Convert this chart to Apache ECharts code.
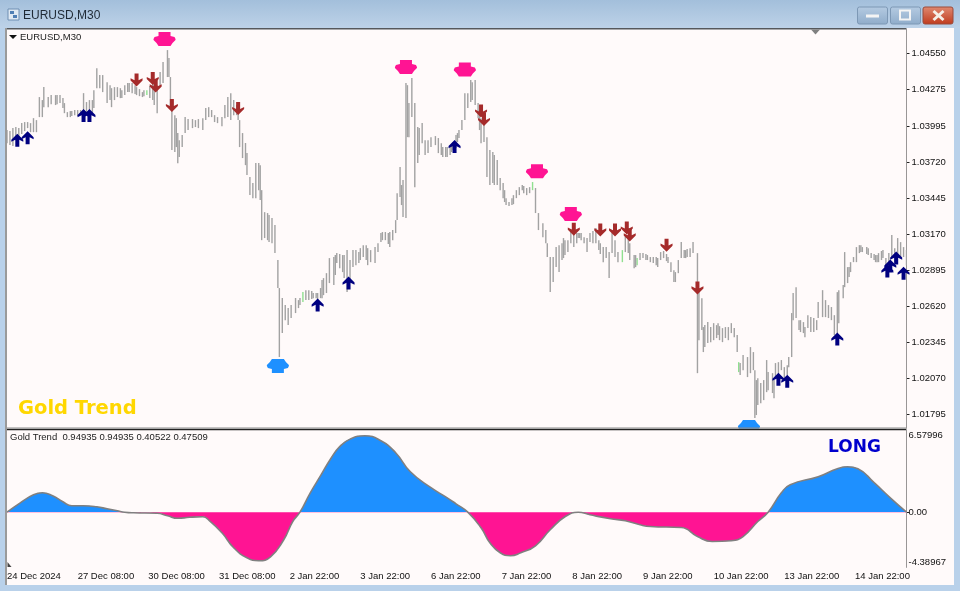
<!DOCTYPE html>
<html>
<head>
<meta charset="utf-8">
<title>EURUSD,M30</title>
<script src="https://cdn.jsdelivr.net/npm/echarts@6/dist/echarts.min.js"></script>
<style>html,body{margin:0;padding:0;background:#b9d1ea}#c{width:960px;height:591px}</style>
</head>
<body>
<div id="c"></div>
<script>
// Price bars: bar number, high and low in 1e-5 price units
const barIdx = [
0,2,4,6,8,10,12,14,16,18,
20,22,24,25,28,30,33,36,39,41,
44,46,50,52,54,58,61,63,65,68,
71,75,78,82,85,88,92,95,99,102,
104,106,109,110,111,112,114,115,116,117,
119,121,123,126,128,130,133,135,137,139,
141,143,146,148,150,152,154,156,157,158,
160,163,165,167,169,171,173,175,177,180,
182,184,185,187,189,191,193,196,198,199,
201,205,208,211,214,217,219,222,224,228,
231,233,235,239,242,245,250,252,254,257,
260,262,264,265,267,268,269,271,272,273,
275,277,279,280,282,284,286,288,291,293,
296,299,302,305,307,309,311,313,315,318,
320,322,324,326,328,330,333,335,337,339,
341,343,346,348,350,353,355,357,359,361,
364,366,367,369,371,373,375,377,378,381,
383,385,388,390,392,394,396,400,402,405,
407,409,411,413,415,418,420,422,423,426,
428,430,432,435,437,439,442,444,446,449,
451,453,454,456,458,460,462,464,466,469,
470,472,473,476,478,480,483,486,488,490,
492,494,496,497,498,500,503,505,507,508,
509,510,512,514,516,517,520,521,522,524,
526,528,530,531,533,534,536,538,541,542,
544,546,548,550,551,554,556,558,560,562,
564,565,568,569,571,572,575,577,579,581,
585,587,590,592,595,597,599,601,603,605,
607,609,611];
const highs = [
103964,103956,103979,103987,103979,104017,104025,104025,104017,104055,
104040,104216,104193,104292,104216,104231,104231,104231,104170,104101,
104109,104117,104117,104246,104178,104193,104437,104384,104384,104330,
104284,104292,104269,104323,104323,104292,104254,104269,104323,104307,
104407,104483,104575,104514,104369,104139,104078,104055,103941,103887,
103926,104063,104048,104048,104040,104048,104055,104132,104139,104117,
104078,104063,104063,104155,104216,104246,104193,104155,104132,104040,
103941,103788,103605,103559,103712,103712,103505,103337,103330,103292,
103238,102971,102757,102681,102627,102604,102627,102681,102665,102681,
102726,102741,102719,102719,102818,102871,102986,102994,103024,103009,
103047,102971,103047,103032,103085,103062,103070,103100,103177,103185,
103185,103200,103276,103482,103681,103544,103582,104323,104307,104170,
104361,104170,103987,103979,104017,103887,103887,103910,103918,103903,
103834,103834,103849,103926,103964,104040,104246,104246,104346,104346,
104170,104055,104017,103910,103811,103796,103735,103597,103559,103444,
103414,103444,103505,103528,103544,103521,103528,103567,103521,103330,
103253,103200,103100,102994,102994,103070,103085,103100,103139,103123,
103185,103177,103177,103177,103146,103139,103177,103215,103123,103070,
103070,103032,103177,103123,103032,103047,103162,103139,103100,103009,
102986,103024,103024,103009,102994,102994,102986,103032,103040,102994,
102955,102894,102879,102971,103108,103047,103055,103062,103108,103024,
102741,102680,102459,102497,102459,102489,102489,102451,102459,102459,
102489,102451,102398,102191,102184,102245,102230,102306,102268,102130,
102054,102069,102031,102054,102207,102115,102107,102054,102184,102191,
102207,102153,102168,102230,102566,102719,102764,102512,102497,102459,
102550,102535,102528,102512,102650,102741,102665,102627,102612,102550,
102726,102741,102780,103032,102917,102917,102994,103070,103085,103070,
103062,103024,103009,103024,103047,102986,103024,103162,103062,103139,
103108,103070,103047];
const lows = [
103864,103849,103842,103887,103910,103933,103956,103979,103948,103948,
103948,104063,104063,104139,104139,104162,104155,104170,104093,104063,
104071,104078,104078,104040,104078,104093,104284,104284,104254,104170,
104139,104216,104208,104254,104246,104231,104216,104231,104193,104093,
104292,104323,104369,104369,104139,103811,103796,103834,103711,103758,
103834,103941,103964,103979,103987,103979,103964,104040,104063,104063,
104025,104017,103994,104055,104063,104040,104078,104078,104040,103834,
103750,103620,103467,103444,103444,103505,103123,103139,103123,103100,
103024,102757,102230,102413,102512,102474,102528,102566,102604,102627,
102650,102665,102680,102665,102680,102719,102795,102780,102948,102879,
102726,102818,102917,102948,102994,102932,102948,103032,103108,103123,
103070,103123,103177,103276,103452,103391,103299,103292,103910,103910,
104063,103528,103712,103773,103864,103773,103788,103834,103849,103788,
103758,103758,103796,103826,103903,103964,104040,104132,104178,104155,
104055,103864,103872,103605,103544,103559,103544,103505,103444,103391,
103383,103391,103444,103467,103505,103467,103482,103505,103330,103200,
103146,103100,102994,102726,102803,102917,102879,102971,102986,103032,
103100,103070,103139,103123,103100,103032,103108,103100,103047,102955,
102986,102833,103024,102994,102955,102955,103032,103024,102971,102909,
102932,102971,102986,102971,102955,102948,102917,102971,102986,102948,
102879,102803,102803,102871,102986,102986,102994,102994,103024,102107,
102359,102436,102268,102337,102344,102359,102398,102344,102375,102359,
102413,102382,102268,102115,102092,102130,102077,102107,102130,101764,
101787,101863,101878,101901,101962,101977,101955,101916,102077,102092,
102130,102069,102092,102153,102230,102512,102528,102436,102413,102382,
102451,102421,102421,102436,102528,102535,102535,102528,102512,102398,
102413,102489,102680,102764,102795,102841,102955,102955,103024,103032,
103009,102986,102955,102955,102986,102917,102932,102994,102955,103009,
102994,102994,102932];
// More bars read from the flatter stretches
const moreIdx = [34,38,43,48,56,59,70,73,77,80,83,87,90,93,97,100,162,172,178,203,207,210,213,215,223,226,229,237,240,244,247,255,259,295,298,301,303,306,316,321,331,338,344,351,379,387,389,398,403,427,434,441,448,461,474,482,484,539,573,580,584,589,591,594];
const moreHighs = [104231,104208,104109,104117,104193,104269,104307,104292,104284,104307,104323,104307,104277,104269,104300,104315,103865,103696,103315,102741,102734,102719,102757,102833,103009,103017,103009,103047,103062,103085,103047,103185,103177,103864,103834,103841,103872,103941,104330,104117,103773,103505,103467,103536,103123,103177,103177,103192,103100,103009,103017,102994,103017,103047,102474,102474,102466,102512,102955,103085,103070,103017,103009,103040];
const moreLows = [104162,104132,104063,104071,104086,104132,104193,104193,104208,104231,104254,104239,104223,104223,104208,104155,103696,103429,103108,102665,102673,102680,102680,102703,102856,102909,102833,102932,102971,102971,102955,103123,103093,103773,103758,103773,103811,103872,104193,103964,103544,103414,103398,103482,103009,103100,103139,103100,103017,102917,102971,102932,102963,102986,102306,102375,102359,102421,102879,103032,103017,102971,102955,102971];
const greenBars = [95,201,357,418,428,497];

// Signal arrows and markers: bar number and price (1e-5 units)
const upArrowBars = [7,14,52,56,211,232,304,524,530,564,598,600,604,609];
const upArrowPrices = [103887,103906,104075,104075,102627,102795,103838,102061,102046,102367,102887,102925,102986,102871];
const downArrowBars = [88,99,101,112,157,322,324,385,403,413,421,423,448,469];
const downArrowPrices = [104346,104357,104300,104151,104128,104109,104044,103207,103200,103200,103215,103162,103085,102757];
const sellBars = [107,271,311,360,383];
const sellPrices = [104659,104445,104426,103650,103322];
const buyBars = [184,504];
const buyPrices = [102161,101695];

// Oscillator
const oscBars = [0,9,18,24,31,38,44,52,61,68,75,80,86,102,109,116,124,133,138,146,154,163,171,179,188,194,199,
206,213,220,226,233,243,254,264,274,288,298,305,313,322,328,335,342,349,359,369,379,388,396,410,420,430,437,458,469,479,492,500,510,517,
526,532,551,564,571,578,589,600,611];
const oscValues = [0,0.75,1.39,1.55,1.31,0.83,0.51,0.51,0.43,0.27,0.11,0,-0.05,-0.09,-0.29,-0.49,-0.41,-0.37,-0.73,-1.65,-2.85,-3.65,-3.89,-3.57,-2.21,-0.77,0,
1.55,2.92,4.30,5.25,5.85,6.12,5.72,4.76,3.24,1.96,1.23,0.67,0,-1.25,-2.45,-3.25,-3.49,-3.25,-2.69,-1.41,-0.37,0,-0.21,-0.53,-0.69,-1.01,-1.15,-1.23,-1.95,-2.35,-2.29,-1.95,-0.75,0,
1.55,2.20,2.84,3.48,3.64,3.48,2.36,1.15,0];

// Axis labels
const priceTicks = [1.04550,1.04275,1.03995,1.03720,1.03445,1.03170,1.02895,1.02620,1.02345,1.02070,1.01795];
const oscTicks = [6.57996,0,-4.38967];
const timeTicks = [0,48,96,144,192,240,288,336,384,432,480,528,576];
const timeLabels = ['24 Dec 2024','27 Dec 08:00','30 Dec 08:00','31 Dec 08:00','2 Jan 22:00','3 Jan 22:00','6 Jan 22:00','7 Jan 22:00','8 Jan 22:00','9 Jan 22:00','10 Jan 22:00','13 Jan 22:00','14 Jan 22:00'];

const FONT = '"Liberation Sans", Tahoma, sans-serif';
const SNOW = '#fffafa';
const P = v => v / 100000;
const UP_PATH = 'path://M6 0 L12 6 L12 8.2 L8 6.2 L8 13 L4 13 L4 6.2 L0 8.2 L0 6 Z';
const HAT_PATH = 'path://M5 0 L17 0 L17 4 L21 5 L22 7 L22 8 L19 11 L17 14 L5 14 L3 11 L0 8 L0 7 L1 5 L5 4 Z';

const chart = echarts.init(document.getElementById('c'), null, {renderer: 'canvas'});

const text = (t, x, y, font, fill, z) => ({type: 'text', z: z || 20, style: {text: t, x, y, font, fill, textVerticalAlign: 'middle'}});
const rect = (x, y, w, h, fill, z, extra) => ({type: 'rect', z: z === undefined ? 20 : z, shape: Object.assign({x, y, width: w, height: h}, extra || {}), style: {fill}});
const grad = (a, b) => new echarts.graphic.LinearGradient(0, 0, 0, 1, [{offset: 0, color: a}, {offset: 1, color: b}]);

const bars = barIdx.map((b, i) => [b, P(highs[i]), P(lows[i])])
  .concat(moreIdx.map((b, i) => [b, P(moreHighs[i]), P(moreLows[i])]));

chart.setOption({
  animation: false,
  backgroundColor: '#b9d1ea',
  grid: [
    {left: 7, right: 53.5, top: 29, height: 399, show: true, backgroundColor: SNOW, borderWidth: 0, z: 1},
    {left: 7, right: 53.5, top: 430, height: 137, show: true, backgroundColor: SNOW, borderWidth: 0, z: 1}
  ],
  visualMap: {show: false, type: 'piecewise', seriesIndex: 5, dimension: 1,
    pieces: [{min: 0, max: 7, color: '#1e90ff'}, {min: -5, max: 0, color: '#ff1493'}]},
  xAxis: [
    {type: 'value', gridIndex: 0, min: 0, max: 611, show: false},
    {type: 'value', gridIndex: 1, min: 0, max: 611,
      axisLine: {show: true, lineStyle: {color: '#444', width: 1}},
      splitLine: {show: false},
      axisTick: {show: true, length: 3, customValues: timeTicks, lineStyle: {color: '#222'}},
      axisLabel: {show: true, customValues: timeTicks, align: 'left', margin: 4.5, color: '#111', fontFamily: FONT, fontSize: 9.5,
        hideOverlap: false, formatter: v => timeLabels[timeTicks.indexOf(v)] || ''}}
  ],
  yAxis: [
    {type: 'value', gridIndex: 0, position: 'right', min: 1.01688, max: 1.04736, scale: true,
      axisLine: {show: true, onZero: false, lineStyle: {color: '#333', width: 1}},
      splitLine: {show: false},
      axisTick: {show: true, length: 3, customValues: priceTicks, lineStyle: {color: '#222'}},
      axisLabel: {show: true, customValues: priceTicks, margin: 5, color: '#111', fontFamily: FONT, fontSize: 9.5, formatter: v => v.toFixed(5)}},
    {type: 'value', gridIndex: 1, position: 'right', min: -4.38967, max: 6.57996,
      axisLine: {show: true, onZero: false, lineStyle: {color: '#333', width: 1}},
      splitLine: {show: false},
      axisTick: {show: true, length: 3, customValues: [0], lineStyle: {color: '#222'}},
      axisLabel: {show: true, customValues: oscTicks, margin: 2, color: '#111', fontFamily: FONT, fontSize: 9.5,
        verticalAlignMaxLabel: 'bottom', verticalAlignMinLabel: 'top',
        formatter: v => v === 0 ? '0.00' : v.toFixed(5)}}
  ],
  series: [
    {type: 'custom', name: 'EURUSD', xAxisIndex: 0, yAxisIndex: 0, z: 3, clip: true,
      data: bars,
      encode: {x: 0, y: [1, 2]},
      renderItem: (params, api) => {
        const a = api.coord([api.value(0), api.value(1)]);
        const b = api.coord([api.value(0), api.value(2)]);
        const green = greenBars.indexOf(api.value(0)) >= 0;
        return {type: 'line', shape: {x1: a[0], y1: a[1], x2: b[0], y2: b[1]},
          style: {stroke: green ? '#8fe08f' : '#a2a2a2', lineWidth: 1.4}};
      }},
    {type: 'scatter', name: 'Up', xAxisIndex: 0, yAxisIndex: 0, z: 5, symbol: UP_PATH, symbolSize: [12, 13],
      itemStyle: {color: '#000080', opacity: 1},
      data: upArrowBars.map((b, i) => [b, P(upArrowPrices[i])])},
    {type: 'scatter', name: 'Down', xAxisIndex: 0, yAxisIndex: 0, z: 5, symbol: UP_PATH, symbolSize: [12, 13], symbolRotate: 180,
      itemStyle: {color: '#a52a2a', opacity: 1},
      data: downArrowBars.map((b, i) => [b, P(downArrowPrices[i])])},
    {type: 'scatter', name: 'Sell', xAxisIndex: 0, yAxisIndex: 0, z: 6, symbol: HAT_PATH, symbolSize: [22, 14],
      itemStyle: {color: '#ff1493', opacity: 1},
      data: sellBars.map((b, i) => [b, P(sellPrices[i])])},
    {type: 'scatter', name: 'Buy', xAxisIndex: 0, yAxisIndex: 0, z: 6, symbol: HAT_PATH, symbolSize: [22, 14], symbolRotate: 180,
      itemStyle: {color: '#1e90ff', opacity: 1},
      data: buyBars.map((b, i) => [b, P(buyPrices[i])])},
    {type: 'line', name: 'Histogram', xAxisIndex: 1, yAxisIndex: 1, z: 3, showSymbol: false, smooth: 0.5,
      lineStyle: {width: 0}, areaStyle: {opacity: 1, origin: 0},
      data: oscBars.map((b, i) => [b, oscValues[i]])},
    {type: 'line', name: 'Trend', xAxisIndex: 1, yAxisIndex: 1, z: 4, showSymbol: false, smooth: 0.5,
      lineStyle: {width: 1.6, color: '#808080'},
      data: oscBars.map((b, i) => [b, oscValues[i]])}
  ],
  graphic: {elements: [
    // window chrome
    Object.assign(rect(0, 0, 960, 28, null, 0), {style: {fill: grad('#a3bfdb', '#bdd2e8')}}),
    rect(5, 28, 949, 557, SNOW, 0),
    rect(5, 28, 901, 1.5, '#55585c', 20),
    rect(5, 28, 2, 557, '#9a9a9a', 20),
    Object.assign(rect(8, 9, 11, 11, null, 20), {style: {fill: '#dfe9f3', stroke: '#6f8fb3', lineWidth: 1}}),
    rect(10, 11, 4, 3, '#4f7fb5', 21),
    rect(13, 15, 4, 3, '#4f7fb5', 21),
    text('EURUSD,M30', 23, 16, '12px ' + FONT, '#1f2a36'),
    // window buttons
    Object.assign(rect(857.5, 7, 30, 17, null, 20, {r: 2}), {style: {fill: grad('#b5cbe2', '#8facca'), stroke: '#7d98b5', lineWidth: 1}}),
    rect(866, 14.5, 13, 3, '#f4f4f4', 21),
    Object.assign(rect(890.5, 7, 30, 17, null, 20, {r: 2}), {style: {fill: grad('#b5cbe2', '#8facca'), stroke: '#7d98b5', lineWidth: 1}}),
    Object.assign(rect(900, 10.5, 10, 9, null, 21), {style: {fill: 'rgba(0,0,0,0)', stroke: '#f4f4f4', lineWidth: 2}}),
    Object.assign(rect(923, 7, 30, 17, null, 20, {r: 2}), {style: {fill: grad('#e08a72', '#bf3a1c'), stroke: '#9a4a3a', lineWidth: 1}}),
    {type: 'line', z: 21, shape: {x1: 933.5, y1: 11, x2: 943.5, y2: 20}, style: {stroke: '#f5efe8', lineWidth: 3}},
    {type: 'line', z: 21, shape: {x1: 943.5, y1: 11, x2: 933.5, y2: 20}, style: {stroke: '#f5efe8', lineWidth: 3}},
    // pane separator (also hides the marker overflow)
    rect(735, 429, 30, 8, SNOW, 8),
    rect(7, 427.5, 899, 1.2, '#8a8a8a', 20),
    rect(7, 429, 899, 1.2, '#222', 20),
    // small triangles
    {type: 'polygon', z: 20, shape: {points: [[811, 29.5], [820, 29.5], [815.5, 34.5]]}, style: {fill: '#808080'}},
    {type: 'polygon', z: 20, shape: {points: [[7.5, 562], [11.5, 567], [7.5, 567]]}, style: {fill: '#444'}},
    {type: 'polygon', z: 20, shape: {points: [[9, 35], [17, 35], [13, 39]]}, style: {fill: '#111'}},
    // labels
    text('EURUSD,M30', 20, 37.5, '9.5px ' + FONT, '#222'),
    text('Gold Trend  0.94935 0.94935 0.40522 0.47509', 10, 437.5, '9.5px ' + FONT, '#222'),
    text('Gold Trend', 18, 409, 'bold 19.5px "DejaVu Sans", Verdana, sans-serif', '#ffd700'),
    text('LONG', 828, 448, 'bold 17px "DejaVu Sans", Verdana, sans-serif', '#0000cd')
  ]}
});
</script>
</body>
</html>
